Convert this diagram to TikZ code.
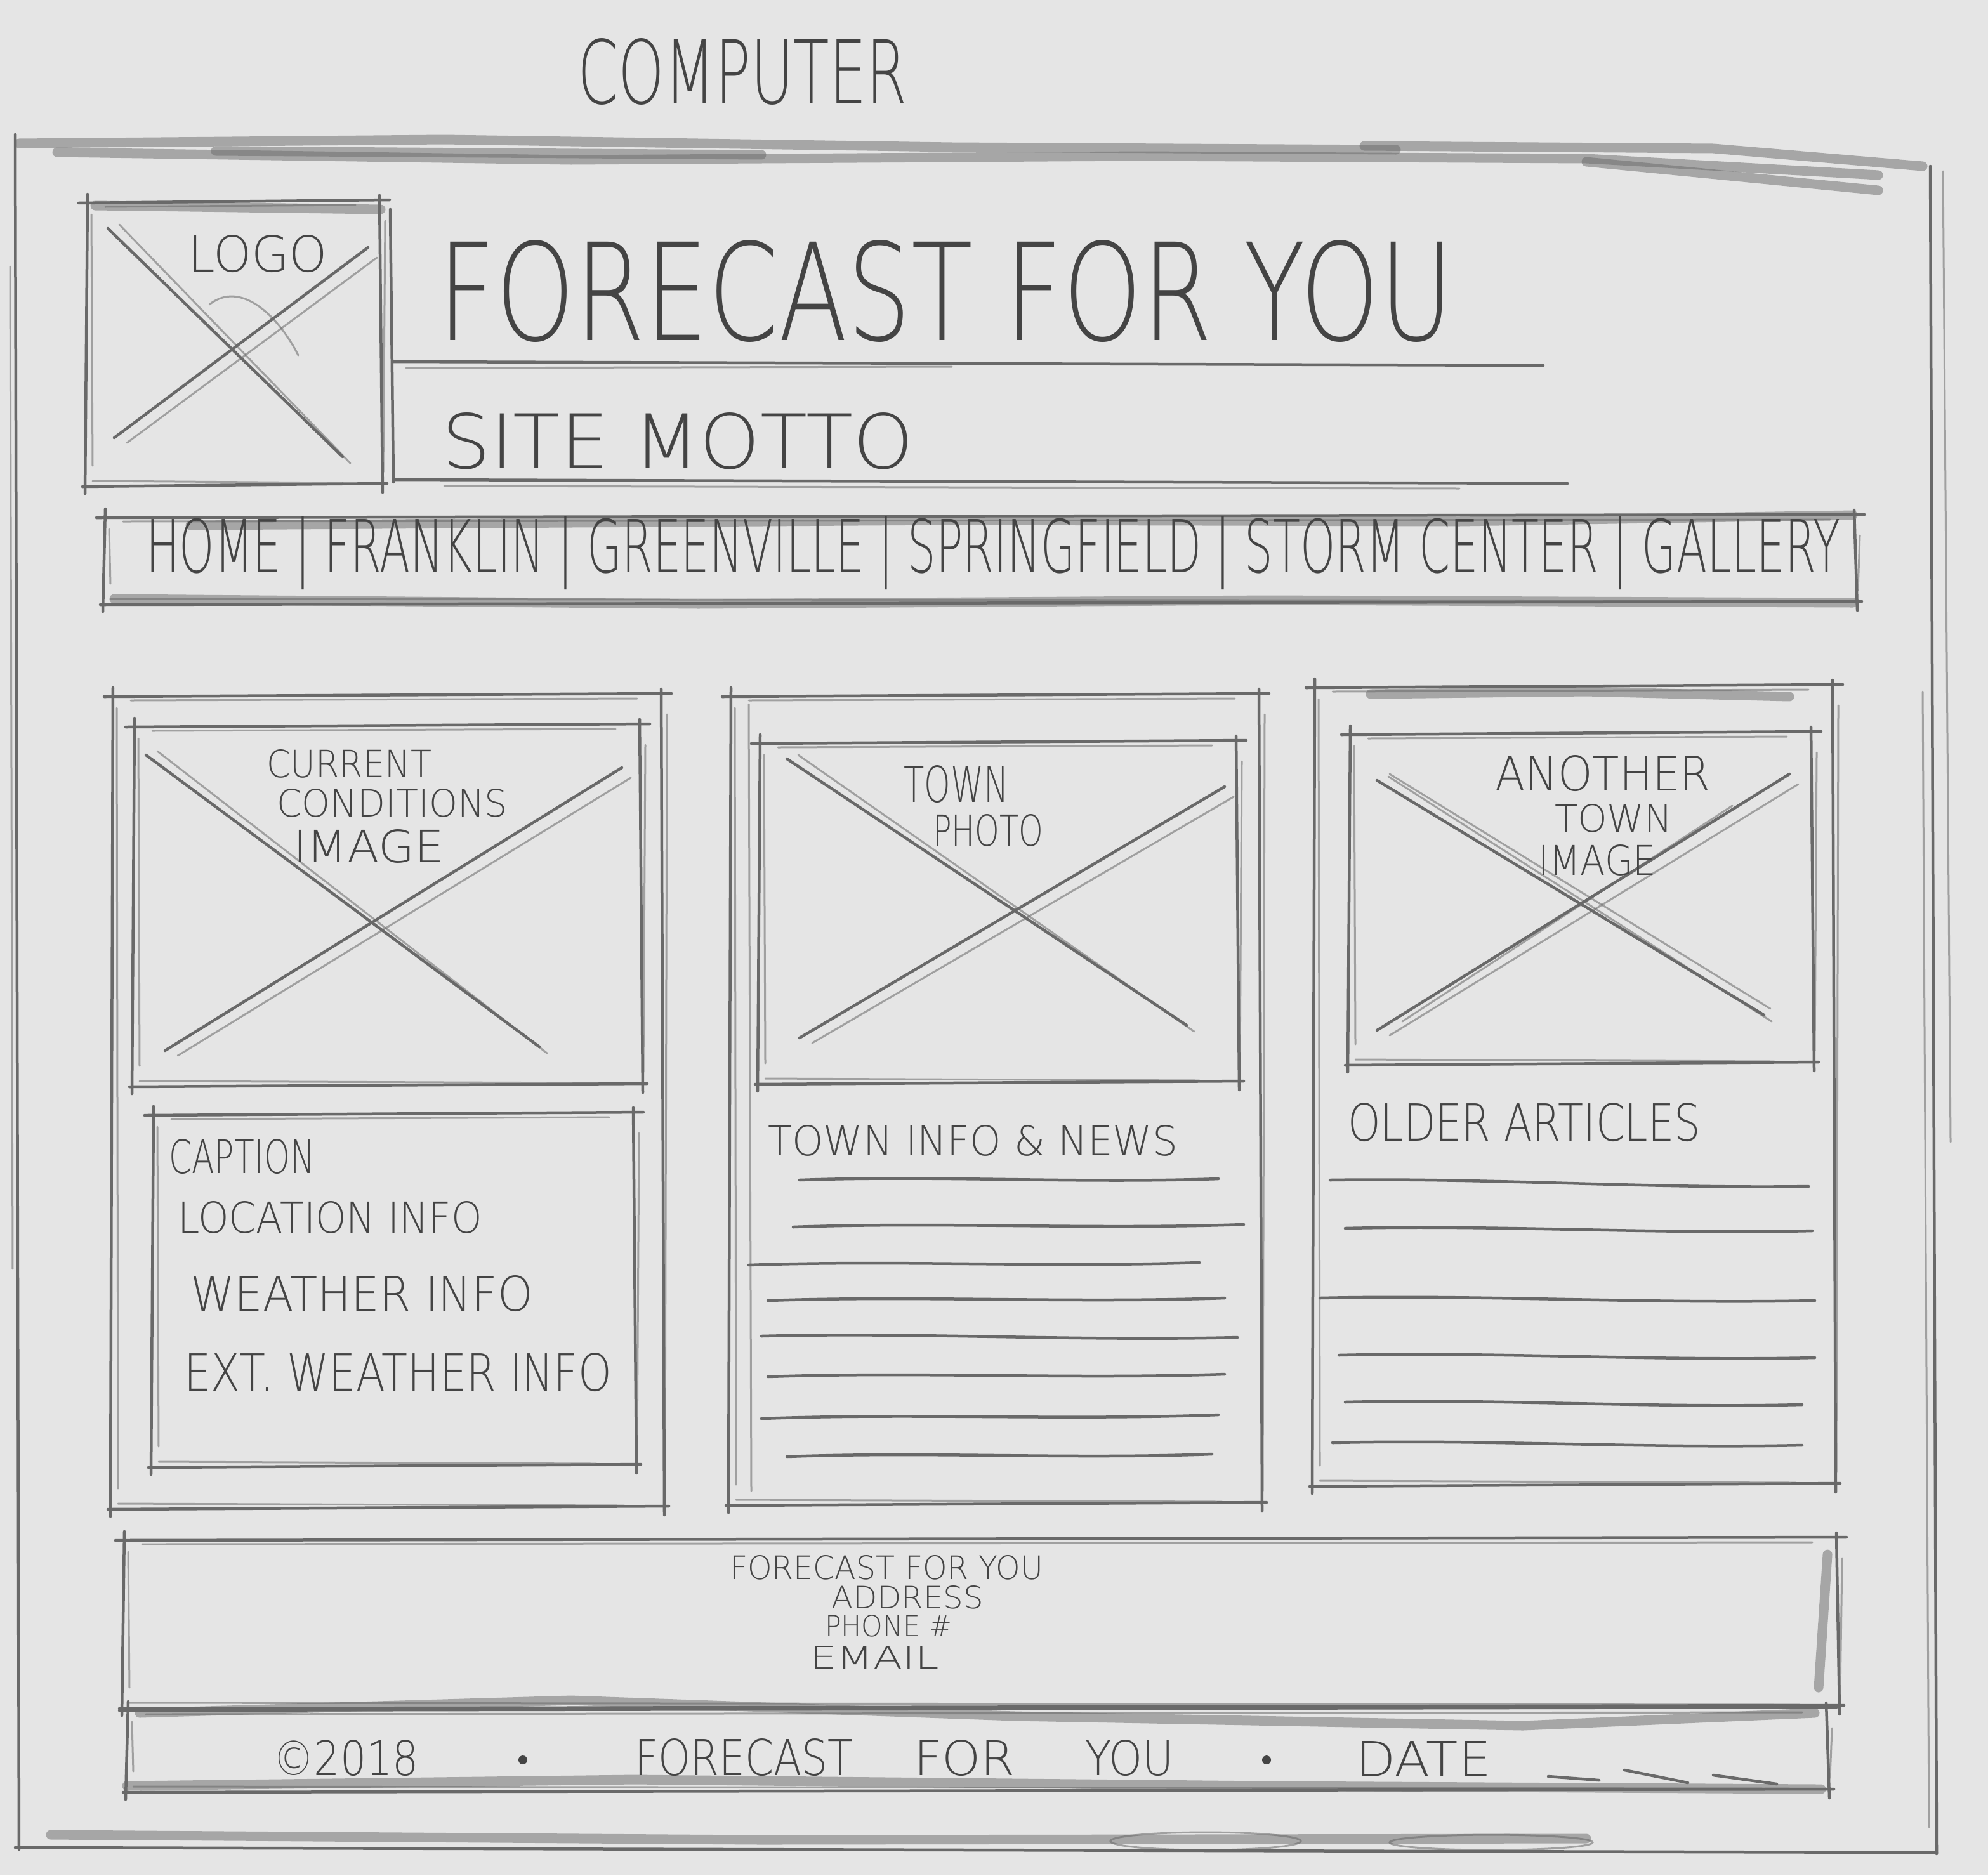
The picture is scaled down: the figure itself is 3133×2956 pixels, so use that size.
\documentclass[tikz,border=0pt]{standalone}
\usepackage{fontspec}
\newfontfamily\skfont{DejaVuSans-ExtraLight.ttf}
\definecolor{paper}{RGB}{229,229,229}
\definecolor{lead}{RGB}{105,105,105}
\definecolor{inkc}{RGB}{68,68,68}
\newdimen\skwd
\newdimen\skht
% hand-lettered text squeezed into the box x1,y1 (top) .. x2,y2 (baseline)
\newcommand\hw[6]{%
  \pgfmathsetlength\skwd{(#4-#2)*0.1mm}%
  \pgfmathsetlength\skht{(#5-#3)*0.1mm}%
  \node[ink,anchor=south west] (#1) at (#2,#5) {\resizebox{\skwd}{\skht}{#6}};}
% pencil rectangle with overshooting, doubled strokes
\newcommand\skbox[4]{%
  \draw[pen] (#1-12,#2+2) -- (#3+14,#2-3);
  \draw[pen] (#1-6,#4+3) -- (#3+10,#4-2);
  \draw[pen] (#1+2,#2-12) -- (#1-2,#4+14);
  \draw[pen] (#3-2,#2-10) -- (#3+3,#4+12);
  \draw[soft] (#1+30,#2+8) -- (#3-40,#2+5);
  \draw[soft] (#1+10,#4-6) -- (#3-60,#4-3);
  \draw[soft] (#1+8,#2+20) -- (#1+10,#4-30);
  \draw[soft] (#3+7,#2+30) -- (#3+4,#4-20);}
% crossed-out image placeholder
\newcommand\skx[8]{%
  \draw[pen] (#1,#2) -- (#3,#4);
  \draw[soft] (#1+18,#2-6) -- (#3+12,#4+10);
  \draw[pen] (#5,#6) -- (#7,#8);
  \draw[soft] (#5+20,#6+8) -- (#7+14,#8+16);}
% wavy text-line placeholder
\newcommand\wl[4]{\draw[pen] (#1,#2) .. controls ($(#1,#2)!0.33!(#3,#4)+(0,-7)$) and ($(#1,#2)!0.66!(#3,#4)+(0,7)$) .. (#3,#4);}
\usetikzlibrary{calc}
\begin{document}
\begin{tikzpicture}[x=0.1mm,y=-0.1mm,
  pen/.style={draw=lead,line width=0.45mm,line cap=round,line join=round},
  soft/.style={draw=lead,line width=0.3mm,opacity=0.55,line cap=round},
  smear/.style={draw=lead,line width=1.5mm,opacity=0.5,line cap=round,line join=round},
  ink/.style={text=inkc,inner sep=0pt,outer sep=0pt,font=\skfont}]
\fill[paper] (0,0) rectangle (3133,2956);
\useasboundingbox (0,0) rectangle (3133,2956);

% page heading
\hw{device}{910}{62}{1430}{165}{COMPUTER}

% outer browser frame
\draw[smear] (30,226) -- (700,220) -- (1500,232) -- (2200,236);
\draw[smear] (90,240) -- (900,252) -- (1800,246) -- (2500,250) -- (2960,276);
\draw[smear] (2150,230) -- (2700,234) -- (3030,262);
\draw[smear] (2500,255) -- (2960,300);
\draw[smear] (340,238) -- (1200,244);
\draw[pen] (24,212) -- (30,2915);
\draw[soft] (16,420) -- (20,2000);
\draw[pen] (3042,262) -- (3052,2922);
\draw[soft] (3062,270) -- (3074,1800);
\draw[soft] (3030,1090) -- (3040,2880);
\draw[pen] (24,2912) -- (3052,2920);
\draw[smear] (80,2892) -- (1200,2900) -- (2500,2898);
\draw[soft] (1900,2902) ellipse [x radius=150,y radius=14];
\draw[soft] (2350,2904) ellipse [x radius=160,y radius=12];

% logo block
\skbox{136}{318}{600}{764}
\draw[smear] (150,324) -- (600,330);
\draw[pen] (615,330) -- (620,760);
\skx{170}{360}{540}{720}{180}{690}{580}{390}
\draw[soft] (330,480) .. controls (380,440) and (440,500) .. (470,560);
\hw{logo}{296}{372}{516}{430}{LOGO}

% site title and motto
\hw{title}{690}{382}{2290}{540}{FORECAST FOR YOU}
\draw[pen] (620,570) -- (2432,576);
\draw[soft] (640,580) -- (1500,578);
\hw{motto}{696}{652}{1440}{740}{SITE MOTTO}
\draw[pen] (620,756) -- (2470,762);
\draw[soft] (700,766) -- (2300,770);

% navigation bar
\skbox{164}{814}{2924}{950}
\draw[smear] (300,828) -- (1500,820) -- (2300,822) -- (2920,812);
\draw[smear] (180,944) -- (1100,952) -- (2000,946) -- (2920,950);
\hw{nav}{230}{842}{2900}{930}{HOME | FRANKLIN | GREENVILLE | SPRINGFIELD | STORM CENTER | GALLERY}

% left column: current conditions
\skbox{176}{1096}{1044}{2376}
\skbox{210}{1144}{1010}{1710}
\skx{230}{1190}{850}{1650}{260}{1656}{980}{1210}
\hw{cc1}{420}{1182}{680}{1226}{CURRENT}
\hw{cc2}{436}{1244}{800}{1288}{CONDITIONS}
\hw{cc3}{462}{1308}{700}{1360}{IMAGE}
\skbox{240}{1756}{1000}{2310}
\hw{cap}{266}{1796}{496}{1850}{CAPTION}
\hw{loc}{280}{1894}{760}{1944}{LOCATION INFO}
\hw{wx}{300}{2012}{840}{2068}{WEATHER INFO}
\hw{ext}{290}{2134}{964}{2194}{EXT. WEATHER INFO}

% middle column: town news
\skbox{1150}{1096}{1986}{2370}
\draw[soft] (1180,1110) -- (1184,2350);
\skbox{1196}{1170}{1950}{1706}
\skx{1240}{1196}{1870}{1616}{1260}{1636}{1930}{1240}
\hw{tp1}{1424}{1208}{1590}{1266}{TOWN}
\hw{tp2}{1470}{1284}{1644}{1334}{PHOTO}
\hw{news}{1210}{1774}{1856}{1822}{TOWN INFO \& NEWS}
\wl{1260}{1860}{1920}{1858}
\wl{1250}{1934}{1960}{1930}
\wl{1180}{1994}{1890}{1990}
\wl{1210}{2050}{1930}{2046}
\wl{1200}{2106}{1950}{2108}
\wl{1210}{2170}{1930}{2166}
\wl{1200}{2236}{1920}{2230}
\wl{1240}{2296}{1910}{2292}

% right column: older articles
\skbox{2070}{1082}{2890}{2340}
\draw[smear] (2160,1094) -- (2500,1090) -- (2820,1098);
\skbox{2126}{1156}{2856}{1676}
\skx{2170}{1230}{2780}{1600}{2170}{1624}{2820}{1220}
\draw[soft] (2190,1220) -- (2790,1590);
\draw[soft] (2210,1610) -- (2730,1270);
\hw{at1}{2356}{1192}{2696}{1248}{ANOTHER}
\hw{at2}{2450}{1268}{2636}{1312}{TOWN}
\hw{at3}{2424}{1332}{2610}{1380}{IMAGE}
\hw{older}{2124}{1740}{2680}{1800}{OLDER ARTICLES}
\wl{2096}{1860}{2850}{1870}
\wl{2120}{1936}{2856}{1940}
\wl{2080}{2046}{2860}{2050}
\wl{2110}{2136}{2860}{2140}
\wl{2120}{2210}{2840}{2214}
\wl{2100}{2274}{2840}{2278}

% contact footer
\skbox{194}{2426}{2896}{2690}
\draw[smear] (2880,2450) -- (2866,2660);
\hw{f1}{1150}{2452}{1644}{2490}{FORECAST FOR YOU}
\hw{f2}{1310}{2500}{1550}{2536}{ADDRESS}
\hw{f3}{1300}{2546}{1500}{2580}{PHONE \#}
\hw{f4}{1276}{2594}{1480}{2630}{EMAIL}

% copyright bar
\skbox{200}{2694}{2880}{2822}
\draw[smear] (220,2700) -- (900,2680) -- (1600,2705) -- (2400,2720) -- (2860,2700);
\draw[smear] (200,2815) -- (1000,2805) -- (2000,2815) -- (2870,2820);
\hw{c1}{430}{2744}{660}{2800}{©2018}
\fill[inkc] (824,2774) circle [radius=0.7mm];
\hw{c2}{1000}{2742}{1344}{2800}{FORECAST}
\hw{c3}{1440}{2744}{1600}{2800}{FOR}
\hw{c4}{1710}{2744}{1850}{2800}{YOU}
\fill[inkc] (1996,2774) circle [radius=0.7mm];
\hw{c5}{2136}{2744}{2350}{2800}{DATE}
\draw[pen] (2440,2800) -- (2520,2806);
\draw[pen] (2560,2790) -- (2660,2810);
\draw[pen] (2700,2798) -- (2800,2812);
\end{tikzpicture}
\end{document}
